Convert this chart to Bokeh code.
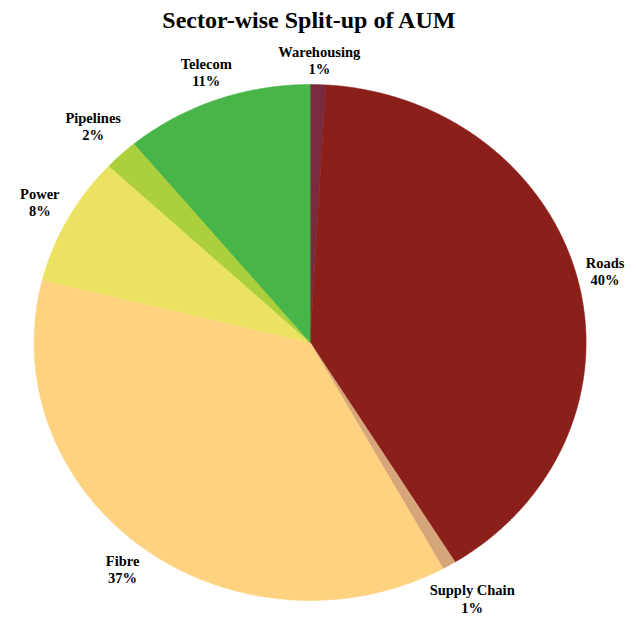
import numpy as np
from bokeh.plotting import figure
from bokeh.models import Range1d, ColumnDataSource
from bokeh.core.properties import value
from bokeh.embed import file_html
from bokeh.resources import INLINE

# ---- data ----
sectors = ["Warehousing", "Roads", "Supply Chain", "Fibre", "Power", "Pipelines", "Telecom"]
shares = [0.9, 40.3, 0.8, 36.9, 8.1, 2.0, 11.0]
pct_labels = ["1%", "40%", "1%", "37%", "8%", "2%", "11%"]
colors = ["#7a2a3e", "#8b1f1a", "#d6a57a", "#fed27f", "#ece262", "#accf3c", "#48b549"]
title_text = "Sector-wise Split-up of AUM"

W, H = 636, 617
p = figure(width=W, height=H, output_backend="svg", toolbar_location=None,
           x_range=Range1d(0, W), y_range=Range1d(0, H), min_border=0)
p.axis.visible = False
p.grid.visible = False
p.outline_line_color = None
p.background_fill_color = "white"
p.border_fill_color = "white"

# geometry (pixel-like data units, y up)
cx, cy = 309.6, H - 342.0
rx, ry = 276.0, 258.0

total = sum(shares)
fracs = np.array(shares) / total
ends = np.cumsum(fracs)
starts = ends - fracs

xs, ys = [], []
for s, e in zip(starts, ends):
    t = np.linspace(s, e, max(int((e - s) * 720), 4)) * 2 * np.pi
    xs.append([cx] + list(cx + rx * np.sin(t)))
    ys.append([cy] + list(cy + ry * np.cos(t)))

src = ColumnDataSource(dict(xs=xs, ys=ys, color=colors, name=sectors))
p.patches("xs", "ys", source=src, fill_color="color", line_color="color", line_width=0.5)

# labels
nudges = [(0, -2), (2, 1.5), (-3, -11), (-3, -2), (-5, 4), (0, 9), (1, 3)]
d, hh = 8.0, 18.0
lx, ly1, ly2 = [], [], []
for i, (s, e) in enumerate(zip(starts, ends)):
    t = (s + e) / 2 * 2 * np.pi
    hw = 0.5 * 7.3 * max(len(sectors[i]), len(pct_labels[i]))
    ax = cx + (rx + d) * np.sin(t) + hw * np.sin(t) + nudges[i][0]
    ay = cy + (ry + d) * np.cos(t) + hh * np.cos(t) + nudges[i][1]
    lx.append(ax)
    ly1.append(ay + 8.7)
    ly2.append(ay - 8.7)

font = value("Liberation Serif")
p.text(x=lx, y=ly1, text=sectors, text_font=font, text_font_style="bold",
       text_font_size="14.5px", text_align="center", text_baseline="middle", text_color="black")
p.text(x=lx, y=ly2, text=pct_labels, text_font=font, text_font_style="bold",
       text_font_size="14.5px", text_align="center", text_baseline="middle", text_color="black")

p.text(x=[309], y=[H - 19], text=[title_text], text_font=font, text_font_style="bold",
       text_font_size="24px", text_align="center", text_baseline="middle", text_color="black")

open("out.html", "w").write(file_html(p, INLINE))
